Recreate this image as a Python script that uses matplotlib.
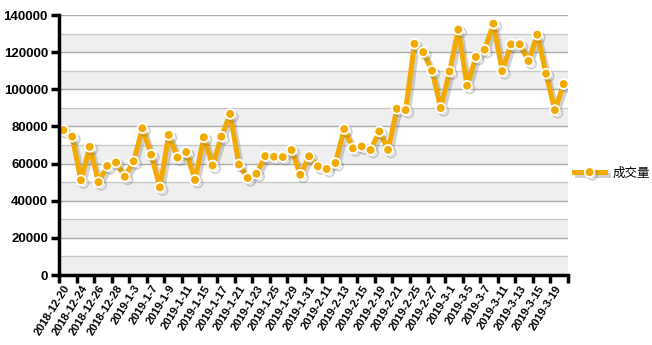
import numpy as np
import matplotlib
matplotlib.use("Agg")
import matplotlib.pyplot as plt
import matplotlib.patheffects as pe

dates = ['2018-12-20', '2018-12-21', '2018-12-24', '2018-12-25', '2018-12-26', '2018-12-27',
         '2018-12-28', '2019-1-2', '2019-1-3', '2019-1-4', '2019-1-7', '2019-1-8',
         '2019-1-9', '2019-1-10', '2019-1-11', '2019-1-14', '2019-1-15', '2019-1-16',
         '2019-1-17', '2019-1-18', '2019-1-21', '2019-1-22', '2019-1-23', '2019-1-24',
         '2019-1-25', '2019-1-28', '2019-1-29', '2019-1-30', '2019-1-31', '2019-2-1',
         '2019-2-11', '2019-2-12', '2019-2-13', '2019-2-14', '2019-2-15', '2019-2-18',
         '2019-2-19', '2019-2-20', '2019-2-21', '2019-2-22', '2019-2-25', '2019-2-26',
         '2019-2-27', '2019-2-28', '2019-3-1', '2019-3-4', '2019-3-5', '2019-3-6',
         '2019-3-7', '2019-3-8', '2019-3-11', '2019-3-12', '2019-3-13', '2019-3-14',
         '2019-3-15', '2019-3-18', '2019-3-19', '2019-3-20']

volume = [78000, 74500, 51000, 69000, 50000, 58700, 60600, 52900, 61200, 79000,
          64800, 47200, 75400, 63200, 66200, 51200, 74100, 59000, 74500, 86700,
          59500, 52200, 54500, 64000, 63700, 63500, 67300, 54000, 63900, 58500,
          57100, 60300, 78600, 68200, 69200, 67300, 77300, 67400, 89500, 88800,
          124500, 120000, 110000, 89900, 109600, 132100, 101900, 117400, 121300, 135300,
          109800, 124200, 124200, 115200, 129400, 108400, 88800, 102800]

series_name = '成交量'
gold = '#F2A900'

fig = plt.figure(figsize=(6.52, 3.45), dpi=100)
ax = fig.add_axes([59 / 652, 1 - 275 / 345, (568 - 59) / 652, 260 / 345])

n = len(volume)
x = np.arange(n)
ax.set_xlim(-0.5, n - 0.5)
ax.set_ylim(0, 140000)

# alternating bands + grid lines
for lo in range(0, 140000, 20000):
    ax.axhspan(lo, lo + 10000, color='#efefef', zorder=0, lw=0)
for yv in range(10000, 140001, 10000):
    c = '#aaaaaa' if yv % 20000 == 0 else '#c8c8c8'
    ax.axhline(yv, color=c, lw=1, zorder=1)

ax.plot(x, volume, color=gold, lw=3.6, marker='o', ms=7, mfc=gold, mec='white',
        mew=1.3, zorder=3, label=series_name,
        path_effects=[pe.SimpleLineShadow(offset=(2, -2), shadow_color='#666666', alpha=0.3),
                      pe.Normal()])

for s in ['top', 'right']:
    ax.spines[s].set_visible(False)
for s in ['left', 'bottom']:
    ax.spines[s].set_linewidth(2.5)
    ax.spines[s].set_zorder(4)

ax.set_yticks(range(0, 140001, 20000))
ax.tick_params(axis='y', length=6, width=2.5, labelsize=9.5, pad=2)
for t in ax.get_yticklabels():
    t.set_fontfamily('Liberation Sans')
    t.set_fontweight('bold')

# ticks at boundaries, labels at every other category center
ax.set_xticks(np.arange(-0.5, n, 2))
ax.set_xticklabels([])
ax.tick_params(axis='x', which='major', length=6, width=2.5)
ax.set_xticks(x[::2], minor=True)
ax.set_xticklabels(dates[::2], minor=True, rotation=58, ha='right', rotation_mode='anchor',
                   fontsize=8, fontweight='bold', fontfamily='Liberation Sans')
ax.tick_params(axis='x', which='minor', length=0, pad=6)

fig.legend(loc='center left', bbox_to_anchor=(569 / 652, 1 - 173 / 345), frameon=False,
           handlelength=2.5, handletextpad=0.6, borderaxespad=0,
           prop={'family': ['Noto Sans CJK SC', 'DejaVu Sans'], 'size': 9})

fig.savefig('out.png', dpi=100)
